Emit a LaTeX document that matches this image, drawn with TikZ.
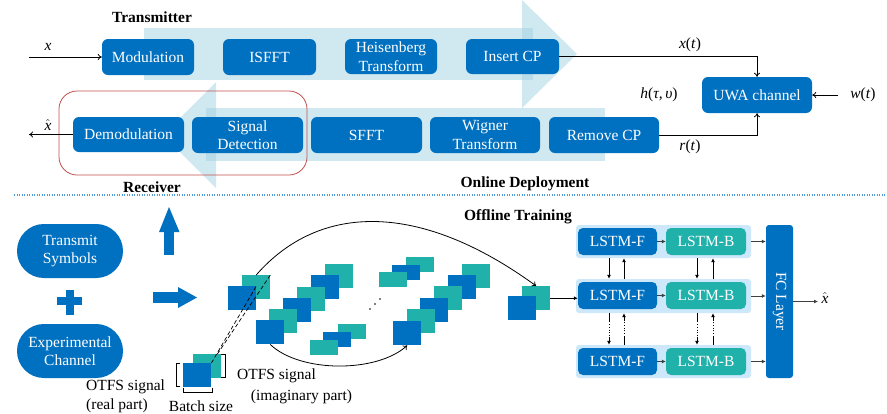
\documentclass[tikz,border=0pt]{standalone}
\usepackage{fontspec}
\setmainfont{Liberation Serif}
\usetikzlibrary{arrows.meta,calc}
\definecolor{bblue}{RGB}{0,112,192}
\definecolor{bteal}{RGB}{32,178,170}
\definecolor{pale}{RGB}{161,209,225}
\definecolor{rowbg}{RGB}{204,232,250}
\definecolor{redbox}{RGB}{192,80,77}
\definecolor{sepblue}{RGB}{79,155,217}
\tikzset{
 blk/.style={rounded corners=6pt, fill=bblue, text=white, inner sep=0pt, align=center, font=\fontsize{15.5}{18.5}\selectfont},
 lstmf/.style={blk, minimum width=79pt, minimum height=27pt, rounded corners=5pt},
 lstmb/.style={lstmf, fill=bteal, minimum width=80pt},
 rowbox/.style={fill=rowbg, rounded corners=3pt, minimum width=175pt, minimum height=33pt, inner sep=0pt},
 sq/.style={inner sep=0pt, minimum width=28pt, minimum height=24pt, anchor=north west, draw=none},
 sqs/.style={sq, minimum height=15pt},
 lab/.style={font=\fontsize{15.5}{19}\selectfont, inner sep=0pt},
 hdr/.style={font=\fontsize{15.5}{18}\selectfont\bfseries, inner sep=0pt},
 arr/.style={-{To[length=4pt,width=6pt]}, line width=0.8pt},
 larr/.style={-{Latex[length=4pt,width=4pt]}, line width=0.8pt},
 bigarrow/.style={fill=pale, opacity=0.5, draw=none},
}
\begin{document}
\begin{tikzpicture}[x=1pt,y=-1pt]
\useasboundingbox (0,0) rectangle (887,413);
% ---------- big pale arrows
\fill[bigarrow] (144,28) rectangle (533,80);
\fill[bigarrow] (522,0) -- (577,54) -- (522,108) -- cycle;
\fill[bigarrow] (206,108) rectangle (605,161);
\fill[bigarrow] (216,82) -- (163,135) -- (216,188) -- cycle;
% ---------- transmitter
\node[blk, minimum width=92pt, minimum height=36pt] (mod) at (148,57) {Modulation};
\node[blk, minimum width=93pt, minimum height=36pt] (isfft) at (269.5,57) {ISFFT};
\node[blk, minimum width=92pt, minimum height=35pt] (heis) at (391,56.5) {Heisenberg\\Transform};
\node[blk, minimum width=93pt, minimum height=35pt] (icp) at (512.5,56.5) {Insert CP};
% ---------- receiver
\node[blk, minimum width=111pt, minimum height=35pt] (demod) at (128.5,134.5) {Demodulation};
\node[blk, minimum width=111pt, minimum height=36pt] (sigdet) at (247.5,135) {Signal\\Detection};
\node[blk, minimum width=111pt, minimum height=36pt] (sfft) at (366.5,135) {SFFT};
\node[blk, minimum width=110pt, minimum height=36pt] (wig) at (485,135) {Wigner\\Transform};
\node[blk, minimum width=110pt, minimum height=36pt] (rcp) at (604,135) {Remove CP};
\node[blk, minimum width=110pt, minimum height=36pt] (uwa) at (757,95) {UWA channel};
\draw[redbox, line width=0.8pt, rounded corners=18pt] (59,91) rectangle (307,175);
% ---------- labels and connectors (top)
\node[hdr] (ltx) at (152,17) {Transmitter};
\node[hdr] (lrx) at (152,187) {Receiver};
\node[hdr] (lon) at (525,184) {Online Deployment};
\node[hdr] (loff) at (518,217) {Offline Training};
\coordinate (xin) at (29,57);
\coordinate (xout) at (29,134.5);
\coordinate (win) at (838,95);
\draw[arr] (xin) -- (mod);
\draw[arr] (demod) -- (xout);
\draw[arr] (icp.east) -| (uwa.north);
\draw[arr] (rcp.east) -| (uwa.south);
\draw[arr] (win) -- (uwa.east);
\node[lab] (lx) at (48,47) {\textit{x}};
\node[lab] (lxh) at (48,125) {$\hat{\textit{x}}$};
\node[lab] (lxt) at (690,45) {\textit{x}(\textit{t})};
\node[lab] (lrt) at (690,147) {\textit{r}(\textit{t})};
\node[lab] (lwt) at (863,95) {\textit{w}(\textit{t})};
\node[lab] (lh) at (659,95) {\textit{h}(\textit{τ},\,\textit{υ})};
% ---------- separator
\draw[sepblue, line width=1.1pt, dash pattern=on 1.4pt off 1.1pt] (14,195) -- (887,195);
% ---------- bottom left
\node[blk, rounded corners=26.9pt, minimum width=106pt, minimum height=54pt] (ts) at (70,251) {Transmit\\Symbols};
\node[blk, rounded corners=26.9pt, minimum width=106pt, minimum height=54pt] (ec) at (70,351) {Experimental\\Channel};
\fill[bblue] (57,297) rectangle (82,305);
\fill[bblue] (65.5,290) rectangle (74,315);
\fill[bblue] (164,255) rectangle (174,230);
\fill[bblue] (159,232) -- (169,207) -- (179.5,232) -- cycle;
\fill[bblue] (153,292) rectangle (180,303);
\fill[bblue] (178,287) -- (197,297.5) -- (178,308) -- cycle;
% ---------- data blocks
\node[sq, fill=bteal] (s0t) at (242,275) {};
\node[sq, fill=bblue] (s0b) at (228,286) {};
\node[sq, fill=bteal] (aCt) at (325,264) {};
\node[sq, fill=bblue] (aCb) at (311,275) {};
\node[sq, fill=bteal] (aBt) at (297,287) {};
\node[sq, fill=bblue] (aBb) at (283,298) {};
\node[sq, fill=bteal] (aAt) at (269,309) {};
\node[sq, fill=bblue] (aAb) at (256,320) {};
\node[sqs, fill=bteal] (l1) at (338,324) {};
\node[sqs, fill=bblue] (l2) at (323,332) {};
\node[sqs, fill=bteal] (l3) at (310,340) {};
\node[sqs, fill=bteal] (u1) at (406,257) {};
\node[sqs, fill=bblue] (u2) at (392,265) {};
\node[sqs, fill=bteal] (u3) at (379,272) {};
\fill (370,309) circle (0.9);
\fill (375,304) circle (0.9);
\fill (380,299) circle (0.9);
\node[sq, fill=bteal] (bCt) at (462,264) {};
\node[sq, fill=bblue] (bCb) at (448,275) {};
\node[sq, fill=bteal] (bBt) at (434,286) {};
\node[sq, fill=bblue] (bBb) at (420,298) {};
\node[sq, fill=bteal] (bAt) at (407,309) {};
\node[sq, fill=bblue] (bAb) at (393,321) {};
\node[sq, fill=bteal] (ot) at (522,286) {};
\node[sq, fill=bblue] (ob) at (508,296) {};
\node[sq, fill=bteal] (bt) at (193,354) {};
\node[sq, fill=bblue] (bb) at (183,363) {};
\draw[line width=0.7pt, dash pattern=on 4pt off 2.5pt] (bb.north east) -- (s0b.north east);
\draw[line width=0.7pt, dash pattern=on 4pt off 2.5pt] ($(bt.north east)+(-4,0)$) -- (s0t.north east);
\draw[line width=0.7pt] (180,363) -- (176,363) -- (176,386) -- (180,386);
\draw[line width=0.7pt] (183,388) -- (183,392) -- (212,392) -- (212,388);
\draw[line width=0.7pt] (221,354) -- (225,354) -- (225,377) -- (221,377);
\draw[arr] (s0t.north) .. controls (320,202) and (421,202) .. (ot.north);
\draw[arr] (aAb.south) .. controls (300,373) and (377,373) .. (bAb.south);
\node[lab, align=left, anchor=west] (lreal) at (86,396.5) {OTFS signal\\(real part)};
\node[lab] (lbatch) at (201,406) {Batch size};
\node[lab] (limag1) at (276.5,376) {OTFS signal};
\node[lab] (limag2) at (301.5,397) {(imaginary part)};
% ---------- LSTM
\node[rowbox] (r1) at (663.5,241.5) {};
\node[rowbox, minimum height=34pt] (r2) at (663.5,296) {};
\node[rowbox] (r3) at (663.5,361.5) {};
\node[lstmf] (f1) at (617.5,241.5) {LSTM-F};
\node[lstmb] (b1) at (706,241.5) {LSTM-B};
\node[lstmf] (f2) at (617.5,295.5) {LSTM-F};
\node[lstmb] (b2) at (706,295.5) {LSTM-B};
\node[lstmf] (f3) at (617.5,361.5) {LSTM-F};
\node[lstmb] (b3) at (706,361.5) {LSTM-B};
\node[fill=bblue, rounded corners=3pt, minimum width=27pt, minimum height=153pt, inner sep=0pt] (fc) at (779.5,301.5) {};
\node[lab, text=white, rotate=-90] (fct) at (fc.center) {FC Layer};
\draw[larr] (ot.east) -- (ot.east -| f2.west);
\foreach \i in {1,2,3}{
 \draw[larr, black!75] (f\i.east) -- (b\i.west);
 \draw[larr, black!75] (r\i.east) -- (r\i.east -| fc.west);
}
\coordinate (xo) at (818,301.5);
\draw[larr, black!75] (fc.east) -- (xo);
\node[lab] (lxo) at (825,298) {$\hat{\textit{x}}$};
% vertical arrows row1-row2
\foreach \c/\d/\u in {f1/-8.5/6.5, b1/-9/7}{
 \draw[larr] ($(\c.south |- r1.south)+(\d,0)$) -- ($(\c.south |- r2.north)+(\d,0)$);
 \draw[larr] ($(\c.south |- r2.north)+(\u,0)$) -- ($(\c.south |- r1.south)+(\u,0)$);
}
% vertical arrows row2-row3 (dotted middle)
\foreach \c/\d/\u in {f1/-8.5/6.5, b1/-9/7}{
 \draw[line width=0.8pt] ($(\c.south |- r2.south)+(\d,0)$) -- ++(0,8);
 \draw[line width=0.8pt, dotted] ($(\c.south |- r2.south)+(\d,8)$) -- ($(\c.south |- r3.north)+(\d,-8)$);
 \draw[larr] ($(\c.south |- r3.north)+(\d,-8)$) -- ($(\c.south |- r3.north)+(\d,0)$);
 \draw[line width=0.8pt] ($(\c.south |- r3.north)+(\u,0)$) -- ++(0,-8);
 \draw[line width=0.8pt, dotted] ($(\c.south |- r3.north)+(\u,-8)$) -- ($(\c.south |- r2.south)+(\u,8)$);
 \draw[larr] ($(\c.south |- r2.south)+(\u,8)$) -- ($(\c.south |- r2.south)+(\u,0)$);
}
\end{tikzpicture}
\end{document}
